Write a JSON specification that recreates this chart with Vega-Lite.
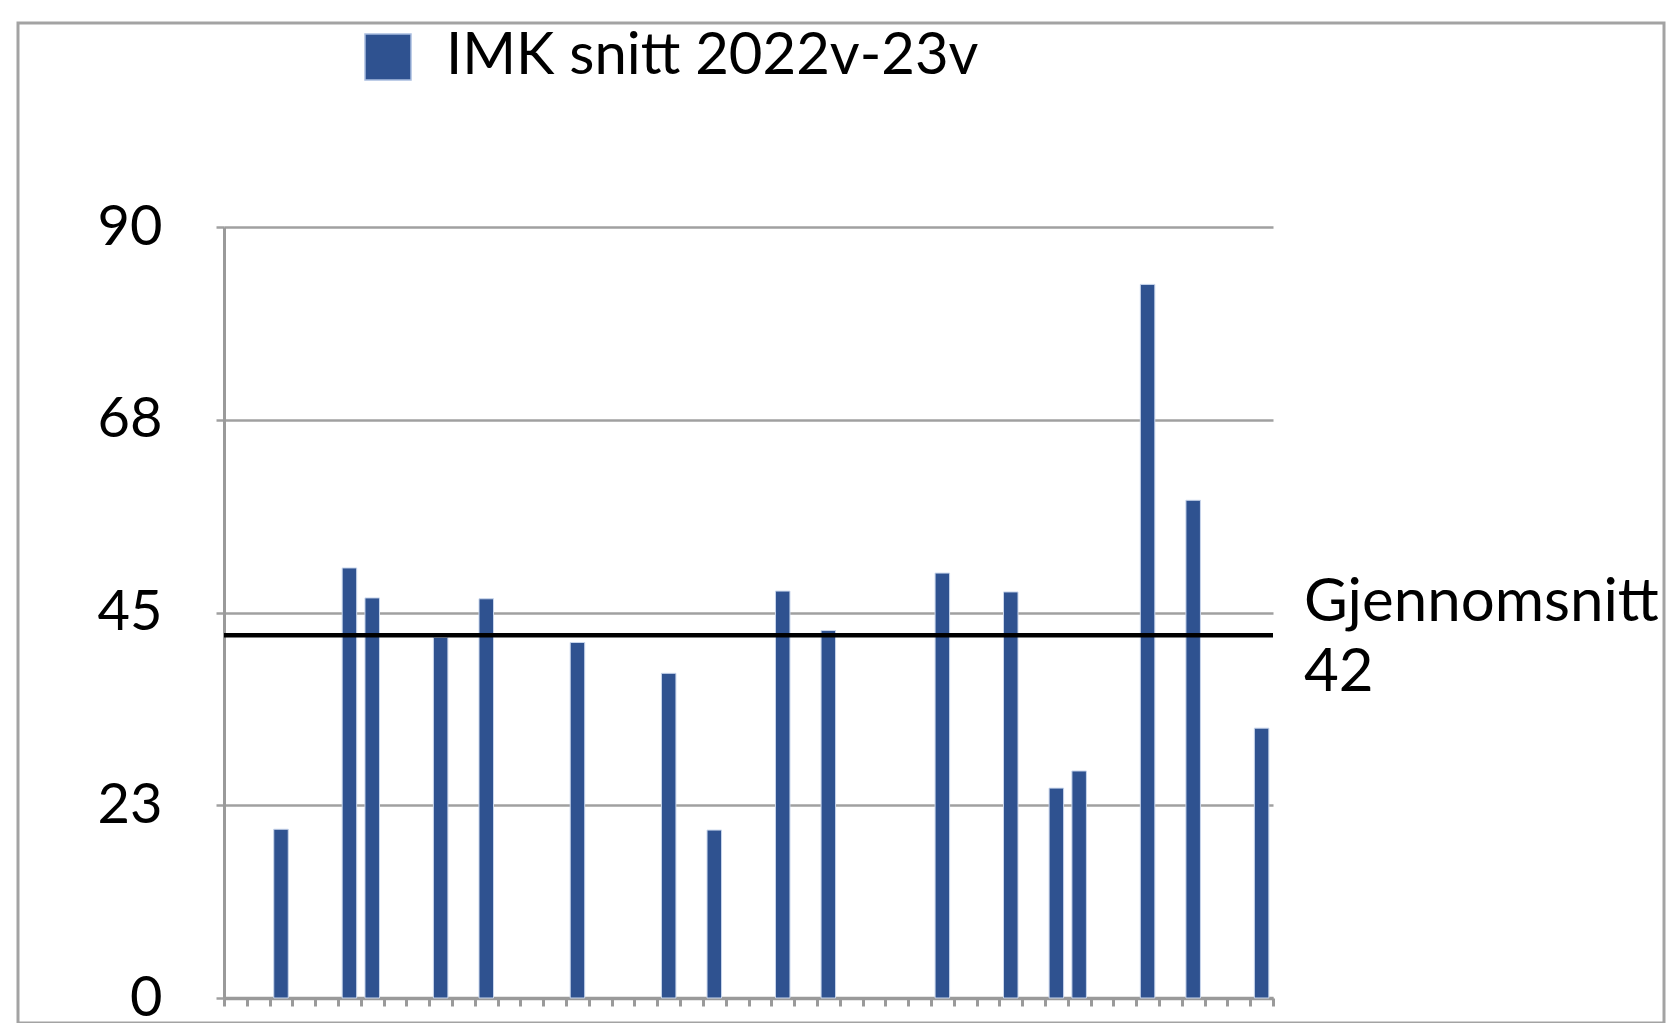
{
  "$schema": "https://vega.github.io/schema/vega-lite/v6.json",
  "autosize": {"type": "none"},
  "width": 1646,
  "height": 1000,
  "padding": {"left": 18, "top": 23, "right": 6, "bottom": 0},
  "background": "white",
  "config": {"view": {"stroke": "#a3a3a3", "strokeWidth": 3}, "font": "Lato"},
  "datasets": {
    "bars": [
      {"k": 3, "v": 19.7, "serie": "IMK snitt 2022v-23v"},
      {"k": 6, "v": 50.2, "serie": "IMK snitt 2022v-23v"},
      {"k": 7, "v": 46.7, "serie": "IMK snitt 2022v-23v"},
      {"k": 10, "v": 42.1, "serie": "IMK snitt 2022v-23v"},
      {"k": 12, "v": 46.6, "serie": "IMK snitt 2022v-23v"},
      {"k": 16, "v": 41.5, "serie": "IMK snitt 2022v-23v"},
      {"k": 20, "v": 37.9, "serie": "IMK snitt 2022v-23v"},
      {"k": 22, "v": 19.6, "serie": "IMK snitt 2022v-23v"},
      {"k": 25, "v": 47.5, "serie": "IMK snitt 2022v-23v"},
      {"k": 27, "v": 42.9, "serie": "IMK snitt 2022v-23v"},
      {"k": 32, "v": 49.6, "serie": "IMK snitt 2022v-23v"},
      {"k": 35, "v": 47.4, "serie": "IMK snitt 2022v-23v"},
      {"k": 37, "v": 24.5, "serie": "IMK snitt 2022v-23v"},
      {"k": 38, "v": 26.5, "serie": "IMK snitt 2022v-23v"},
      {"k": 41, "v": 83.3, "serie": "IMK snitt 2022v-23v"},
      {"k": 43, "v": 58.1, "serie": "IMK snitt 2022v-23v"},
      {"k": 46, "v": 31.5, "serie": "IMK snitt 2022v-23v"}
    ],
    "avg": [{"v": 42.35, "label": ["Gjennomsnitt", "42"]}]
  },
  "layer": [
    {
      "data": {"name": "bars"},
      "mark": {"type": "bar", "size": 14.5, "stroke": "#c9d6ec", "strokeWidth": 1},
      "encoding": {
        "x": {
          "field": "k", "type": "quantitative",
          "scale": {"domain": [0.5, 46.5], "range": [206, 1255], "nice": false, "zero": false, "padding": 0},
          "axis": {
            "title": null, "orient": "bottom", "offset": -25, "tickCount": 200,
            "values": [0.5,1.5,2.5,3.5,4.5,5.5,6.5,7.5,8.5,9.5,10.5,11.5,12.5,13.5,14.5,15.5,16.5,17.5,18.5,19.5,20.5,21.5,22.5,23.5,24.5,25.5,26.5,27.5,28.5,29.5,30.5,31.5,32.5,33.5,34.5,35.5,36.5,37.5,38.5,39.5,40.5,41.5,42.5,43.5,44.5,45.5,46.5],
            "labels": false, "grid": false,
            "domainColor": "#9a9a9a", "domainWidth": 3.5,
            "tickColor": "#9a9a9a", "tickWidth": 3, "tickSize": 8
          }
        },
        "y": {
          "field": "v", "type": "quantitative",
          "scale": {"domain": [0, 90], "range": [975, 204], "nice": false},
          "axis": {
            "title": null, "offset": -206,
            "values": [0, 22.5, 45, 67.5, 90], "format": ".0f",
            "grid": true, "gridColor": "#a0a0a0", "gridWidth": 2.5,
            "domainColor": "#9a9a9a", "domainWidth": 3,
            "tickColor": "#a0a0a0", "tickWidth": 2.5, "tickSize": 8,
            "labelFont": "Lato", "labelFontSize": 56, "labelColor": "black", "labelPadding": 54
          }
        },
        "color": {
          "field": "serie", "type": "nominal",
          "scale": {"range": ["#2f5290"]},
          "legend": {
            "title": null, "orient": "none", "legendX": 341, "legendY": 5,
            "symbolType": "square", "symbolSize": 2116,
            "symbolStrokeColor": "#a9bde0", "symbolStrokeWidth": 1.5, "symbolOpacity": 1,
            "labelFont": "Lato", "labelFontSize": 58, "labelColor": "black",
            "labelOffset": 29, "padding": 0, "labelLimit": 0
          }
        }
      }
    },
    {
      "data": {"name": "avg"},
      "mark": {"type": "rule", "color": "black", "strokeWidth": 4.5},
      "encoding": {
        "y": {"field": "v", "type": "quantitative"},
        "x": {"datum": 0.5, "type": "quantitative"},
        "x2": {"datum": 46.5}
      }
    },
    {
      "data": {"name": "avg"},
      "mark": {"type": "text", "align": "left", "baseline": "middle", "dx": 31, "dy": -32, "font": "Lato", "fontSize": 60, "lineHeight": 70, "color": "black"},
      "encoding": {
        "y": {"field": "v", "type": "quantitative"},
        "x": {"datum": 46.5, "type": "quantitative"},
        "text": {"field": "label"}
      }
    }
  ]
}
